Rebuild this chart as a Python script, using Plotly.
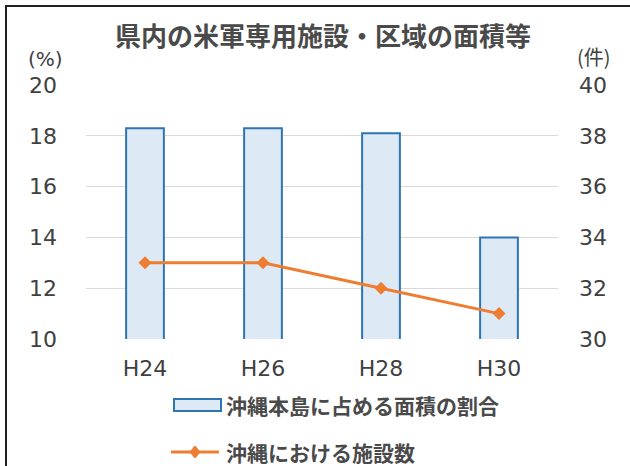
import plotly.graph_objects as go

categories = ["H24", "H26", "H28", "H30"]
area_share = [18.3, 18.3, 18.1, 14.0]
facility_count = [33, 33, 32, 31]
left_ticks = [10, 12, 14, 16, 18, 20]
right_ticks = [30, 32, 34, 36, 38, 40]
bar_name = "沖縄本島に占める面積の割合"
line_name = "沖縄における施設数"

JP = "Noto Sans CJK JP"
NUM = "DejaVu Sans"
TXT = "#404040"
JPTXT = "#4a4a4a"
BLUE = "#2E75B6"
FILL = "#DDEAF6"
ORANGE = "#ED7D31"

fig = go.Figure()
fig.add_trace(go.Bar(
    x=categories, y=area_share, name=bar_name,
    marker=dict(color=FILL, line=dict(color=BLUE, width=2)),
    width=0.32,
))
fig.add_trace(go.Scatter(
    x=categories, y=facility_count, name=line_name, yaxis="y2",
    mode="lines+markers",
    line=dict(color=ORANGE, width=3),
    marker=dict(symbol="diamond", size=10, color=ORANGE),
))

L, R, T, B = 86, 72, 85, 127
W, H = 630, 466
pw, ph = W - L - R, H - T - B


def px(x):
    return (x - L) / pw


def py(y):
    return (H - B - y) / ph


numfont = dict(family=NUM, size=22, color=TXT)

fig.update_layout(
    width=W, height=H,
    margin=dict(l=L, r=R, t=T, b=B, autoexpand=False),
    paper_bgcolor="white", plot_bgcolor="white",
    font=dict(family=NUM, color=TXT, size=20),
    title=dict(text="県内の米軍専用施設・区域の面積等", x=px(323), xref="paper",
               xanchor="center", y=1 - 37 / H, yanchor="middle",
               font=dict(family=JP, size=26, color=JPTXT, weight="bold")),
    xaxis=dict(showgrid=False, showline=False, ticks="", ticklabelstandoff=14,
               automargin=False, tickfont=numfont),
    yaxis=dict(range=[10, 20], tickvals=left_ticks, showgrid=True,
               gridcolor="#D9D9D9", gridwidth=1, zeroline=False, showline=False,
               automargin=False, ticklabelstandoff=28, tickfont=numfont),
    yaxis2=dict(range=[30, 40], tickvals=right_ticks, overlaying="y", side="right",
                showgrid=False, zeroline=False, showline=False, automargin=False,
                ticklabelstandoff=20, tickfont=numfont),
    showlegend=False,
    bargap=0.68,
)

fig.add_annotation(text="(%)", xref="paper", yref="paper",
                   x=px(45), y=py(59), xanchor="center", yanchor="middle",
                   showarrow=False, font=dict(family=NUM, size=20, color=TXT))
fig.add_annotation(text="(件)", xref="paper", yref="paper",
                   x=px(594), y=py(56), xanchor="center", yanchor="middle",
                   showarrow=False, font=dict(family=JP, size=20, color=TXT))

# legend (drawn manually)
fig.add_shape(type="rect", xref="paper", yref="paper",
              x0=px(174), x1=px(221), y0=py(411), y1=py(399),
              line=dict(color=BLUE, width=2), fillcolor=FILL)
fig.add_annotation(text=bar_name, xref="paper", yref="paper",
                   x=px(224), y=py(405), xanchor="left", yanchor="middle",
                   showarrow=False, font=dict(family=JP, size=21, color=JPTXT, weight="bold"))
fig.add_shape(type="line", xref="paper", yref="paper",
              x0=px(171), x1=px(219), y0=py(452), y1=py(452),
              line=dict(color=ORANGE, width=3))
fig.add_shape(type="path", xref="paper", yref="paper",
              path="M {a},{c} L {b},{d} L {e},{c} L {b},{f} Z".format(
                  a=px(190), b=px(195), e=px(200), c=py(452), d=py(446), f=py(458)),
              line=dict(color=ORANGE, width=1), fillcolor=ORANGE)
fig.add_annotation(text=line_name, xref="paper", yref="paper",
                   x=px(224), y=py(452), xanchor="left", yanchor="middle",
                   showarrow=False, font=dict(family=JP, size=21, color=JPTXT, weight="bold"))

# outer frame
fig.add_shape(type="rect", xref="paper", yref="paper",
              x0=px(6), y0=py(H + 20), x1=px(W + 20), y1=py(6),
              line=dict(color="#202020", width=2),
              fillcolor="rgba(0,0,0,0)", layer="above")

fig.write_html("out.html", config={"displayModeBar": False},
               post_script="document.body.style.margin='0';document.body.style.overflow='hidden';")
